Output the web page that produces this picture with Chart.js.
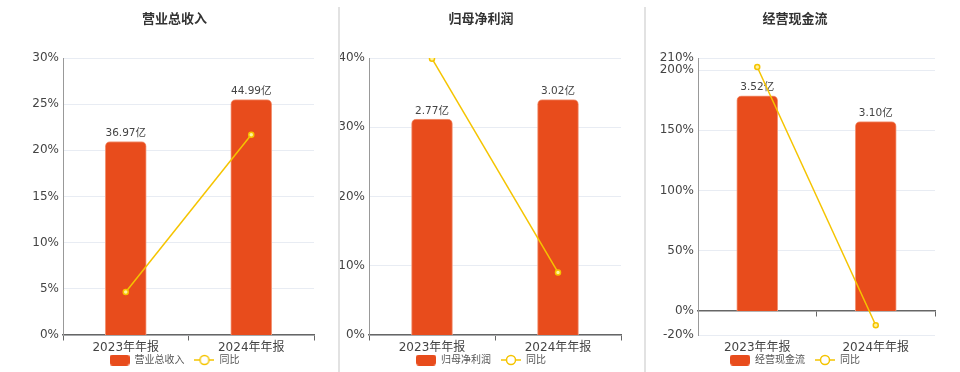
<!DOCTYPE html>
<html>
<head>
<meta charset="utf-8">
<script src="https://cdn.jsdelivr.net/npm/chart.js@4.4.1/dist/chart.umd.min.js"></script>
<style>
html, body { margin: 0; padding: 0; background: #fff; width: 960px; height: 372px; overflow: hidden; }
.panel { position: absolute; top: 0; height: 385px; }
.sep { position: absolute; top: 7px; width: 2px; height: 365px; background: #e2e2e2; }
</style>
</head>
<body>
<div class="panel" style="left:0;width:349px"><canvas id="c1"></canvas></div>
<div class="panel" style="left:330px;width:302px"><canvas id="c2"></canvas></div>
<div class="panel" style="left:646px;width:298px"><canvas id="c3"></canvas></div>
<div class="sep" style="left:338px"></div>
<div class="sep" style="left:644px"></div>
<script>
const categories = ['2023年年报', '2024年年报'];

const revenueValues = [36.97, 44.99];
const revenueYoy = [4.66, 21.69];
const revenueTicks = [0, 5, 10, 15, 20, 25, 30];

const profitValues = [2.77, 3.02];
const profitYoy = [39.9, 9.03];
const profitTicks = [0, 10, 20, 30, 40];

const cashValues = [3.52, 3.10];
const cashYoy = [202.5, -11.93];
const cashTicks = [-20, 0, 50, 100, 150, 200, 210];

const barColor = '#E84C1C';
const lineColor = '#F5C400';

Chart.defaults.font.family = '"DejaVu Sans", "Noto Sans CJK SC", sans-serif';

// 图例图标
function makeBarIcon() {
    const c = document.createElement('canvas');
    c.width = 20; c.height = 11;
    const g = c.getContext('2d');
    g.fillStyle = barColor;
    g.beginPath();
    g.roundRect(0, 0, 20, 11, 3);
    g.fill();
    return c;
}
function makeLineIcon() {
    const c = document.createElement('canvas');
    c.width = 20; c.height = 12;
    const g = c.getContext('2d');
    g.strokeStyle = lineColor;
    g.lineWidth = 1.5;
    g.beginPath();
    g.moveTo(0, 6); g.lineTo(20, 6);
    g.stroke();
    g.fillStyle = '#fff';
    g.beginPath();
    g.arc(10, 6, 4.5, 0, Math.PI * 2);
    g.fill();
    g.stroke();
    return c;
}
const barIcon = makeBarIcon();
const lineIcon = makeLineIcon();

// 柱子上方的数值标签
const barLabels = {
    id: 'barLabels',
    afterDatasetDraw(chart, args) {
        if (args.index !== 0) return;
        const ctx = chart.ctx;
        const values = chart.data.datasets[0].data;
        ctx.save();
        ctx.font = '10.5px "DejaVu Sans", "Noto Sans CJK SC", sans-serif';
        ctx.fillStyle = '#444';
        ctx.textAlign = 'center';
        ctx.textBaseline = 'bottom';
        args.meta.data.forEach((bar, i) => {
            ctx.fillText(values[i].toFixed(2) + '亿', bar.x, bar.y - 3);
        });
        ctx.restore();
    }
};

// 图例往上挪一点，贴近横轴标签
const liftLegend = {
    id: 'liftLegend',
    afterLayout(chart) {
        chart.legend.top -= 10;
        chart.legend.bottom -= 10;
    }
};

function makeChart(canvasId, title, barName, barValues, yoyValues, yTicks, axisWidth, rightSpace) {
    const yMin = yTicks[0];
    const yMax = yTicks[yTicks.length - 1];
    const k = Math.max(...barValues) / 0.85 / yMax;
    return new Chart(document.getElementById(canvasId), {
        type: 'bar',
        data: {
            labels: categories,
            datasets: [
                {
                    type: 'bar',
                    label: barName,
                    data: barValues,
                    xAxisID: 'x',
                    yAxisID: 'yb',
                    backgroundColor: barColor,
                    borderColor: '#f29a7c',
                    borderWidth: 1,
                    borderSkipped: 'start',
                    borderRadius: { topLeft: 5, topRight: 5 },
                    barThickness: 41,
                    order: 2
                },
                {
                    type: 'line',
                    label: '同比',
                    data: yoyValues,
                    xAxisID: 'x',
                    yAxisID: 'y',
                    borderColor: lineColor,
                    borderWidth: 1.5,
                    pointRadius: 2.5,
                    pointBorderWidth: 1.5,
                    pointBorderColor: lineColor,
                    pointBackgroundColor: '#fff3a0',
                    order: 1
                }
            ]
        },
        options: {
            responsive: true,
            maintainAspectRatio: false,
            animation: false,
            layout: { padding: 0 },
            plugins: {
                title: {
                    display: true,
                    text: title,
                    color: '#333',
                    font: { size: 13, weight: 'bold' },
                    padding: { top: 12, bottom: 30.4 }
                },
                legend: {
                    position: 'bottom',
                    labels: {
                        usePointStyle: true,
                        pointStyleWidth: 20,
                        padding: 10,
                        color: '#555',
                        font: { size: 10 },
                        sort: (a, b) => a.datasetIndex - b.datasetIndex,
                        generateLabels: chart => {
                            const items = Chart.defaults.plugins.legend.labels.generateLabels(chart);
                            items.forEach(it => { it.pointStyle = it.datasetIndex === 0 ? barIcon : lineIcon; });
                            return items;
                        }
                    }
                },
                tooltip: { enabled: false }
            },
            scales: {
                x: {
                    type: 'category',
                    position: { y: 0 },
                    offset: true,
                    grid: { display: true, offset: true, drawOnChartArea: false, drawTicks: true, tickLength: 5, color: '#666' },
                    border: { display: true, color: '#666', width: 1.5 },
                    ticks: { display: false }
                },
                xl: {
                    type: 'category',
                    position: 'bottom',
                    offset: true,
                    grid: { display: false, drawTicks: false },
                    border: { display: false },
                    ticks: { padding: 6, color: '#444', font: { size: 12 } },
                    afterFit: s => { s.height = 20; }
                },
                y: {
                    position: 'left',
                    min: yMin,
                    max: yMax,
                    afterBuildTicks: s => { s.ticks = yTicks.map(v => ({ value: v })); },
                    grid: { color: '#e8ecf3', drawTicks: false },
                    border: { display: true, color: '#999' },
                    ticks: { autoSkip: false, padding: 4, color: '#444', font: { size: 12 }, callback: v => v + '%' },
                    afterFit: s => { s.width = axisWidth; }
                },
                yb: {
                    position: 'right',
                    min: yMin * k,
                    max: yMax * k,
                    grid: { display: false, drawTicks: false },
                    border: { display: false },
                    ticks: { display: false },
                    afterFit: s => { s.width = rightSpace; }
                }
            }
        },
        plugins: [barLabels, liftLegend]
    });
}

makeChart('c1', '营业总收入', '营业总收入', revenueValues, revenueYoy, revenueTicks, 63, 35);
makeChart('c2', '归母净利润', '归母净利润', profitValues, profitYoy, profitTicks, 39, 11);
makeChart('c3', '经营现金流', '经营现金流', cashValues, cashYoy, cashTicks, 52, 9);
</script>
</body>
</html>
